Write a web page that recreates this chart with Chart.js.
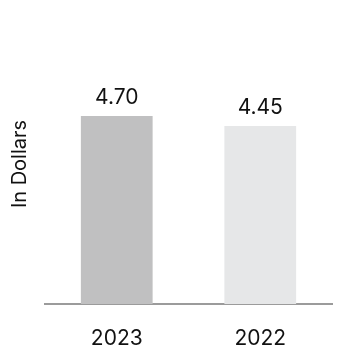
<!DOCTYPE html>
<html>
<head>
<meta charset="utf-8">
<script src="https://cdn.jsdelivr.net/npm/chart.js@4"></script>
<style>
  html, body { margin: 0; padding: 0; background: #fff; }
  #wrap { width: 362px; height: 364px; }
</style>
</head>
<body>
<div id="wrap"><canvas id="barChart"></canvas></div>
<script>
const years = ['2023', '2022'];
const values = [4.70, 4.45];
const valueLabels = ['4.70', '4.45'];
const barColors = ['#c0c0c1', '#e6e7e8'];

const fontFamily = "Inter, 'Liberation Sans', Arial, sans-serif";

// draw the number above each bar
const valueLabelPlugin = {
    id: 'valueLabels',
    afterDatasetsDraw(chart) {
        const ctx = chart.ctx;
        const meta = chart.getDatasetMeta(0);
        ctx.save();
        ctx.font = '21px ' + fontFamily;
        ctx.fillStyle = '#111';
        ctx.textAlign = 'center';
        ctx.textBaseline = 'middle';
        meta.data.forEach((bar, i) => {
            ctx.fillText(valueLabels[i], bar.x, bar.y - 18);
        });
        ctx.restore();
    }
};

new Chart(document.getElementById('barChart'), {
    type: 'bar',
    data: {
        labels: years,
        datasets: [{
            data: values,
            backgroundColor: barColors,
            borderWidth: 0,
            barPercentage: 0.5,
            categoryPercentage: 1
        }]
    },
    options: {
        responsive: true,
        maintainAspectRatio: false,
        animation: false,
        layout: { padding: { top: 24, right: 30, bottom: 14, left: 8 } },
        plugins: {
            legend: { display: false },
            tooltip: { enabled: false }
        },
        scales: {
            x: {
                grid: { display: false, drawTicks: false },
                border: { display: true, color: '#9b9b9b', width: 2 },
                ticks: {
                    padding: 22,
                    color: '#111',
                    font: { family: fontFamily, size: 21 }
                },
                afterFit(scale) {
                    scale.height = 46;
                }
            },
            y: {
                min: 0,
                max: 7,
                grid: { display: false, drawTicks: false },
                border: { display: false },
                ticks: { display: false },
                title: {
                    display: true,
                    text: 'In Dollars',
                    color: '#111',
                    padding: { top: 0, bottom: 13 },
                    font: { family: fontFamily, size: 20 }
                }
            }
        }
    },
    plugins: [valueLabelPlugin]
});
</script>
</body>
</html>
